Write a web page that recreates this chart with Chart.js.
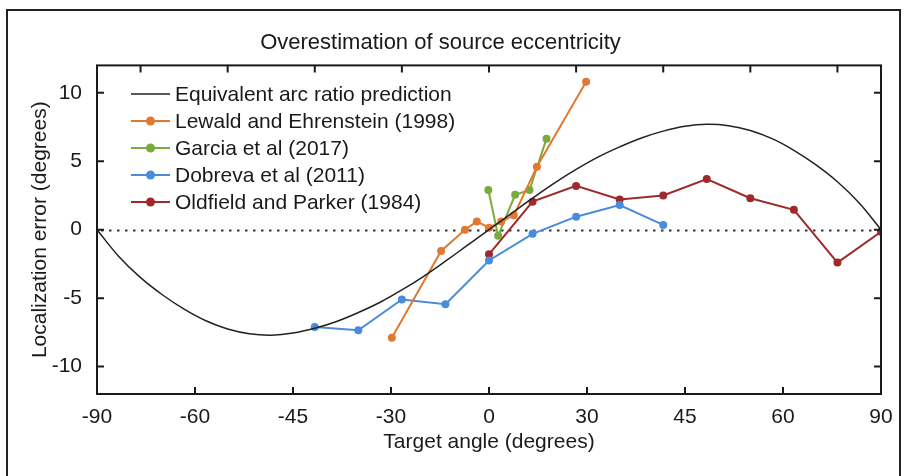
<!DOCTYPE html>
<html><head><meta charset="utf-8">
<script src="https://cdn.jsdelivr.net/npm/chart.js@4.4.1/dist/chart.umd.min.js"></script>
<style>html,body{margin:0;padding:0;background:#fff;} #wrap{width:904px;height:476px;position:relative;}</style>
</head><body><div id="wrap"><canvas id="c" width="904" height="476"></canvas></div>
<script>
const titleText = 'Overestimation of source eccentricity';
const xTitle = 'Target angle (degrees)';
const yTitle = 'Localization error (degrees)';
const xTickValues = [-90, -67.5, -45, -22.5, 0, 22.5, 45, 67.5, 90];
const xTickLabels = ['-90', '-60', '-45', '-30', '0', '30', '45', '60', '90'];
const xTopTickValues = [-80, -60, -40, -20, 0, 20, 40, 60, 80];
const yTickValues = [-10, -5, 0, 5, 10];

const arcX = [-90,-85,-80,-75,-70,-65,-60,-55,-50,-45,-40,-35,-30,-25,-20,-15,-10,-5,0,5,10,15,20,25,30,35,40,45,50,55,60,65,70,75,80,85,90];
const arcY = [0,-1.95,-3.5,-4.75,-5.8,-6.65,-7.25,-7.6,-7.7,-7.55,-7.2,-6.7,-6.05,-5.3,-4.4,-3.4,-2.3,-1.15,0,1.15,2.3,3.4,4.4,5.3,6.05,6.7,7.2,7.55,7.7,7.6,7.25,6.65,5.8,4.75,3.5,1.95,0];
const lewaldX = [-22.3, -11, -5.5, -2.8, 0, 2.8, 5.7, 11, 22.3];
const lewaldY = [-7.9, -1.55, 0.0, 0.6, 0.15, 0.6, 1.05, 4.6, 10.8];
const garciaX = [-0.15, 2.1, 6.0, 9.3, 13.2];
const garciaY = [2.9, -0.45, 2.55, 2.9, 6.65];
const dobrevaX = [-40, -30, -20, -10, 0, 10, 20, 30, 40];
const dobrevaY = [-7.1, -7.35, -5.1, -5.45, -2.25, -0.3, 0.95, 1.8, 0.35];
const oldfieldX = [0, 10, 20, 30, 40, 50, 60, 70, 80, 90];
const oldfieldY = [-1.8, 2.05, 3.2, 2.2, 2.5, 3.7, 2.3, 1.45, -2.4, -0.15];

const seriesNames = ['Equivalent arc ratio prediction', 'Lewald and Ehrenstein (1998)', 'Garcia et al (2017)', 'Dobreva et al (2011)', 'Oldfield and Parker (1984)'];
const seriesColors = ['#222222', '#E07A30', '#7BAA3C', '#4A8BDB', '#9E2A2B'];

const FONT = '"Liberation Sans", Arial, Helvetica, sans-serif';
const pts = (xs, ys) => xs.map((x, i) => ({x, y: ys[i]}));

function mk(i, xs, ys, isCurve) {
  return {
    label: seriesNames[i],
    data: pts(xs, ys),
    borderColor: seriesColors[i],
    backgroundColor: seriesColors[i],
    borderWidth: isCurve ? 1.5 : 2,
    pointRadius: isCurve ? 0 : 4,
    pointHoverRadius: isCurve ? 0 : 4,
    pointBorderWidth: 0,
    pointBackgroundColor: seriesColors[i],
    tension: isCurve ? 0.4 : 0,
    fill: false
  };
}

const outerBorder = {
  id: 'outerBorder',
  beforeDraw(chart) {
    const ctx = chart.ctx;
    ctx.save();
    ctx.fillStyle = '#fff';
    ctx.fillRect(0, 0, chart.width, chart.height);
    ctx.strokeStyle = '#222';
    ctx.lineWidth = 2;
    ctx.beginPath();
    ctx.moveTo(7, 480); ctx.lineTo(7, 10); ctx.lineTo(900, 10); ctx.lineTo(900, 480);
    ctx.stroke();
    ctx.restore();
  }
};

const zeroLine = {
  id: 'zeroLine',
  beforeDatasetsDraw(chart) {
    const {ctx, chartArea: a, scales: {y}} = chart;
    const py = Math.round(y.getPixelForValue(0)) + 0.5;
    ctx.save();
    ctx.strokeStyle = '#333';
    ctx.lineWidth = 2;
    ctx.setLineDash([2.5, 5.5]);
    ctx.beginPath(); ctx.moveTo(a.left + 4, py); ctx.lineTo(a.right, py); ctx.stroke();
    ctx.restore();
  }
};

const frame = {
  id: 'frame',
  afterDatasetsDraw(chart) {
    const {ctx, chartArea: a, scales: {x, y}} = chart;
    const L = 7;
    ctx.save();
    ctx.strokeStyle = '#1a1a1a';
    ctx.lineWidth = 2;
    ctx.strokeRect(a.left, a.top, a.right - a.left, a.bottom - a.top);
    ctx.beginPath();
    xTickValues.forEach(v => { const px = x.getPixelForValue(v); ctx.moveTo(px, a.bottom); ctx.lineTo(px, a.bottom - L); });
    xTopTickValues.forEach(v => { const px = x.getPixelForValue(v); ctx.moveTo(px, a.top); ctx.lineTo(px, a.top + L); });
    yTickValues.forEach(v => { const py = y.getPixelForValue(v); ctx.moveTo(a.left, py); ctx.lineTo(a.left + L, py); ctx.moveTo(a.right, py); ctx.lineTo(a.right - L, py); });
    ctx.stroke();
    ctx.restore();
  }
};

const legendPlugin = {
  id: 'customLegend',
  afterDraw(chart) {
    const ctx = chart.ctx;
    chart.data.datasets.forEach((ds, i) => {
      const yy = 94 + i * 27;
      ctx.save();
      ctx.strokeStyle = ds.borderColor;
      ctx.lineWidth = ds.borderWidth;
      ctx.beginPath(); ctx.moveTo(131, yy); ctx.lineTo(170, yy); ctx.stroke();
      if (ds.pointRadius > 0) {
        ctx.fillStyle = ds.borderColor;
        ctx.beginPath(); ctx.arc(150.5, yy, 4.5, 0, Math.PI * 2); ctx.fill();
      }
      ctx.fillStyle = '#1a1a1a';
      ctx.font = '21px ' + FONT;
      ctx.textBaseline = 'middle';
      ctx.textAlign = 'left';
      ctx.fillText(ds.label, 175, yy + 1);
      ctx.restore();
    });
  }
};

new Chart(document.getElementById('c'), {
  type: 'line',
  data: {
    datasets: [
      mk(0, arcX, arcY, true),
      mk(1, lewaldX, lewaldY, false),
      mk(2, garciaX, garciaY, false),
      mk(3, dobrevaX, dobrevaY, false),
      mk(4, oldfieldX, oldfieldY, false)
    ]
  },
  options: {
    responsive: false,
    animation: false,
    layout: {padding: {left: 0, right: 23, top: 0, bottom: 0}},
    plugins: {
      legend: {display: false},
      tooltip: {enabled: false},
      title: {
        display: true, text: titleText, color: '#1a1a1a',
        font: {family: FONT, size: 22, weight: 'normal', lineHeight: 1.2},
        padding: {top: 30, bottom: 9}
      }
    },
    scales: {
      x: {
        type: 'linear', min: -90, max: 90,
        afterBuildTicks: s => { s.ticks = xTickValues.map(v => ({value: v})); },
        afterFit: s => { s.height = 82; },
        grid: {display: false, drawTicks: false},
        border: {display: false},
        ticks: {
          color: '#1a1a1a', padding: 11, maxRotation: 0, autoSkip: false,
          font: {family: FONT, size: 21},
          callback: (v, i) => xTickLabels[i]
        },
        title: {display: true, text: xTitle, color: '#1a1a1a', font: {family: FONT, size: 21}, padding: {top: 0, bottom: 21}}
      },
      y: {
        type: 'linear', min: -12, max: 12,
        afterBuildTicks: s => { s.ticks = yTickValues.map(v => ({value: v})); },
        afterFit: s => { s.width = 97; },
        grid: {display: false, drawTicks: false},
        border: {display: false},
        ticks: {color: '#1a1a1a', padding: 15, font: {family: FONT, size: 21}, callback: v => String(v)},
        title: {display: true, text: yTitle, color: '#1a1a1a', font: {family: FONT, size: 21}, padding: {top: 28, bottom: 0}}
      }
    }
  },
  plugins: [outerBorder, zeroLine, frame, legendPlugin]
});
</script>
</body></html>
